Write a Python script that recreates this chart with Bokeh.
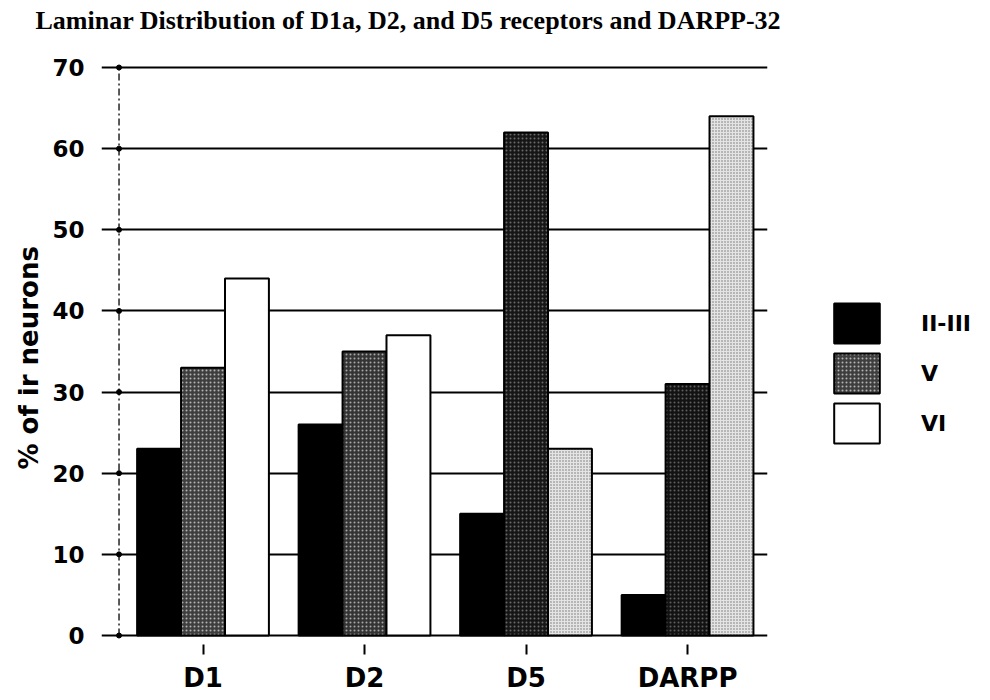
from bokeh.plotting import figure
from bokeh.models import (ColumnDataSource, FixedTicker, Legend, LegendItem,
                          Range1d, Title)
from bokeh.transform import dodge
from bokeh.embed import file_html
from bokeh.resources import INLINE

# ---------------- data ----------------
categories = ["D1", "D2", "D5", "DARPP"]
layers = ["II-III", "V", "VI"]
layer_II_III = [23, 26, 15, 5]
layer_V = [33, 35, 62, 31]
layer_VI = [44, 37, 23, 64]
y_ticks = [0, 10, 20, 30, 40, 50, 60, 70]

title_text = "Laminar Distribution of D1a, D2, and D5 receptors and DARPP-32"
y_title = "% of ir neurons"

# ---------------- styles ----------------
v_fill = ["#3e3e3e", "#343434", "#161616", "#121212"]
v_hatch = ["#b4b4b4", "#a8a8a8", "#6a6a6a", "#5e5e5e"]
vi_fill = ["#ffffff", "#ffffff", "#e4e4e4", "#e4e4e4"]
vi_hatch = ["#ffffff", "#ffffff", "#707070", "#707070"]

pos = [i + 1 for i in range(len(categories))]
src = ColumnDataSource(dict(
    x=pos, a=layer_II_III, b=layer_V, c=layer_VI,
    vf=v_fill, vh=v_hatch, wf=vi_fill, wh=vi_hatch,
))

p = figure(frame_width=666, frame_height=607,
           output_backend="svg", toolbar_location=None,
           x_range=Range1d(0.3715, 4.495), y_range=Range1d(-1.109, 73.697),
           min_border_left=101, min_border_right=215,
           min_border_top=36, min_border_bottom=49)
p.outline_line_color = None
p.background_fill_color = "white"

# title
p.title.text = title_text
p.title.text_font = "Liberation Serif"
p.title.text_font_style = "bold"
p.title.text_font_size = "26px"
p.title.text_color = "black"
p.title.align = "left"
p.title.vertical_align = "bottom"
p.title.offset = -66
p.title.standoff = 6

# grid
p.xgrid.visible = False
p.ygrid.ticker = FixedTicker(ticks=y_ticks)
p.ygrid.grid_line_color = "black"
p.ygrid.grid_line_width = 2

# y axis (labels only; drawn axis line added below)
p.yaxis.ticker = FixedTicker(ticks=y_ticks)
p.yaxis.axis_line_color = None
p.yaxis.major_tick_line_color = None
p.yaxis.minor_tick_line_color = None
p.yaxis.major_tick_in = 0
p.yaxis.major_tick_out = 0
p.yaxis.minor_tick_in = 0
p.yaxis.minor_tick_out = 0
p.yaxis.major_label_standoff = 17
p.yaxis.major_label_text_font = "DejaVu Sans"
p.yaxis.major_label_text_font_style = "bold"
p.yaxis.major_label_text_font_size = "23px"
p.yaxis.major_label_text_color = "black"

# y axis title, positioned along the left side
ytitle = Title(text=y_title, text_font="DejaVu Sans", text_font_style="bold",
               text_font_size="26px", text_color="black", align="left",
               vertical_align="bottom", offset=175, standoff=12)
p.add_layout(ytitle, "left")

# x axis
p.xaxis.ticker = FixedTicker(ticks=pos)
p.xaxis.major_label_overrides = {x: c for x, c in zip(pos, categories)}
p.xaxis.axis_line_color = None
p.xaxis.minor_tick_line_color = None
p.xaxis.minor_tick_in = 0
p.xaxis.minor_tick_out = 0
p.xaxis.major_tick_in = 0
p.xaxis.major_tick_out = 10
p.xaxis.major_tick_line_width = 2
p.xaxis.major_tick_line_color = "black"
p.xaxis.major_label_standoff = 8
p.xaxis.major_label_text_font = "DejaVu Sans"
p.xaxis.major_label_text_font_style = "bold"
p.xaxis.major_label_text_font_size = "26px"
p.xaxis.major_label_text_color = "black"

# dashed y axis line with tick marks
axis_x = 0.48
p.segment(x0=[axis_x], y0=[y_ticks[0]], x1=[axis_x], y1=[y_ticks[-1]],
          line_color="black", line_width=1.3, line_dash="7 3 2 3")
p.scatter(x=[axis_x] * len(y_ticks), y=y_ticks, marker="circle", size=5,
          fill_color="black", line_color="black")

bw = 0.272
r1 = p.vbar(x=dodge("x", -bw, range=p.x_range), top="a", width=bw, bottom=0,
            source=src, fill_color="black", line_color="black", line_width=2)
r2 = p.vbar(x=dodge("x", 0, range=p.x_range), top="b", width=bw, bottom=0,
            source=src, fill_color="vf", line_color="black", line_width=2,
            hatch_pattern="dot", hatch_color="vh", hatch_scale=4, hatch_weight=1.3)
r3 = p.vbar(x=dodge("x", bw, range=p.x_range), top="c", width=bw, bottom=0,
            source=src, fill_color="wf", line_color="black", line_width=2,
            hatch_pattern="dot", hatch_color="wh", hatch_scale=3, hatch_weight=1.0)

legend = Legend(items=[LegendItem(label=layers[0], renderers=[r1]),
                       LegendItem(label=layers[1], renderers=[r2]),
                       LegendItem(label=layers[2], renderers=[r3])],
                location=(61, 196), border_line_color=None,
                background_fill_alpha=0, padding=0, margin=0, spacing=0,
                glyph_width=57, glyph_height=50, label_height=50,
                label_standoff=36, label_text_font="DejaVu Sans",
                label_text_font_style="bold",
                label_text_font_size="22px", label_text_color="black")
p.add_layout(legend, "right")

open("out.html", "w").write(file_html(p, INLINE))
